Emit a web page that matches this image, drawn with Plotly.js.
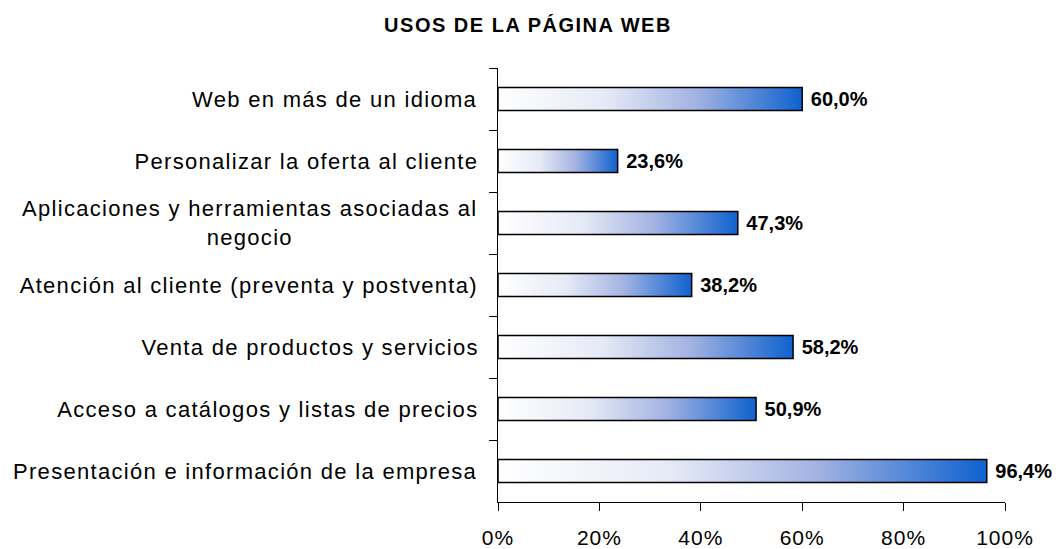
<!DOCTYPE html>
<html>
<head>
<meta charset="utf-8">
<script src="https://cdn.plot.ly/plotly-3.0.1.min.js"></script>
<style>
  body { margin: 0; background: #fff; }
  #chart { width: 1056px; height: 549px; }
  /* the source chart has loosely spaced letters */
  #chart .annotation-text { letter-spacing: 1.3px; }
  #chart .xtick text { letter-spacing: 1px; }
  #chart .gtitle { letter-spacing: 1.5px; }
</style>
</head>
<body>
<div id="chart"></div>
<script>
  // --- data (top to bottom as in the picture) ---
  const categories = [
    'Web en más de un idioma',
    'Personalizar la oferta al cliente',
    'Aplicaciones y herramientas asociadas al<br>negocio',
    'Atención al cliente (preventa y postventa)',
    'Venta de productos y servicios',
    'Acceso a catálogos y listas de precios',
    'Presentación e información de la empresa'
  ];
  const percentages = [60.0, 23.6, 47.3, 38.2, 58.2, 50.9, 96.4];
  const xTickValues = [0, 0.2, 0.4, 0.6, 0.8, 1];
  const xTickLabels = ['0%', '20%', '40%', '60%', '80%', '100%'];
  const chartTitle = 'USOS DE LA PÁGINA WEB';

  const FONT = 'Liberation Sans, Arial, sans-serif';
  const LABEL_SPACING = 1.3; // must match the css letter-spacing above
  const ids = categories.map((c, i) => 'c' + i);

  const trace = {
    type: 'bar',
    orientation: 'h',
    y: ids,
    x: percentages.map(v => v / 100),
    text: percentages.map(v => '\u00a0' + v.toFixed(1).replace('.', ',') + '%'),
    textposition: 'outside',
    cliponaxis: false,
    textfont: { family: FONT, size: 20, color: '#000', weight: 'bold' },
    marker: { color: '#5a7fd6', line: { color: '#000', width: 1.5 } },
    hoverinfo: 'skip'
  };

  // category labels as annotations so the wrapped line is centred;
  // plotly measures them without the css spacing, so push them left by half of it
  const labelNotes = categories.map((c, i) => {
    const longest = Math.max(...c.split('<br>').map(s => s.length));
    return {
      xref: 'paper', x: 0, xanchor: 'right',
      xshift: -19 - longest * LABEL_SPACING / 2 + LABEL_SPACING,
      yref: 'y', y: ids[i], yanchor: 'middle',
      text: c, align: 'center', showarrow: false,
      font: { family: FONT, size: 22, color: '#000' }
    };
  });

  const layout = {
    width: 1056,
    height: 549,
    margin: { l: 498, r: 51, t: 68, b: 47 },
    paper_bgcolor: 'white',
    plot_bgcolor: 'white',
    showlegend: false,
    bargap: 0.63,
    title: {
      text: '<b>' + chartTitle + '</b>',
      font: { family: FONT, size: 20, color: '#000' },
      x: 0.5, xref: 'container', xanchor: 'center',
      y: 1 - 25 / 549, yref: 'container', yanchor: 'middle'
    },
    xaxis: {
      range: [0, 1],
      tickvals: xTickValues,
      ticktext: xTickLabels,
      ticks: 'outside', ticklen: 8, tickwidth: 1, tickcolor: '#000',
      ticklabelstandoff: 9,
      showline: true, linecolor: '#000', linewidth: 1,
      showgrid: false, zeroline: false,
      tickfont: { family: FONT, size: 21, color: '#000' }
    },
    yaxis: {
      type: 'category',
      autorange: 'reversed',
      showticklabels: false,
      ticks: 'outside', ticklen: 8, tickwidth: 1, tickcolor: '#000',
      tickson: 'boundaries',
      showline: true, linecolor: '#000', linewidth: 1,
      showgrid: false, zeroline: false
    },
    annotations: labelNotes
  };

  function paintGradient(gd) {
    const svg = gd.querySelector('svg.main-svg');
    let defs = svg.querySelector('defs');
    if (!defs) {
      defs = document.createElementNS('http://www.w3.org/2000/svg', 'defs');
      svg.insertBefore(defs, svg.firstChild);
    }
    const grad = document.createElementNS('http://www.w3.org/2000/svg', 'linearGradient');
    grad.setAttribute('id', 'barGrad');
    grad.setAttribute('x1', '0'); grad.setAttribute('y1', '0');
    grad.setAttribute('x2', '1'); grad.setAttribute('y2', '0');
    [['0', '#ffffff'], ['0.35', '#e6eaf6'], ['0.65', '#a3b3e2'], ['1', '#0f62cf']].forEach(s => {
      const stop = document.createElementNS('http://www.w3.org/2000/svg', 'stop');
      stop.setAttribute('offset', s[0]);
      stop.setAttribute('stop-color', s[1]);
      grad.appendChild(stop);
    });
    defs.appendChild(grad);
    gd.querySelectorAll('.barlayer .point path').forEach(p => {
      p.style.setProperty('fill', 'url(#barGrad)');
    });
  }

  const gd = document.getElementById('chart');
  Plotly.newPlot(gd, [trace], layout, { staticPlot: true, displayModeBar: false })
    .then(paintGradient);
</script>
</body>
</html>
